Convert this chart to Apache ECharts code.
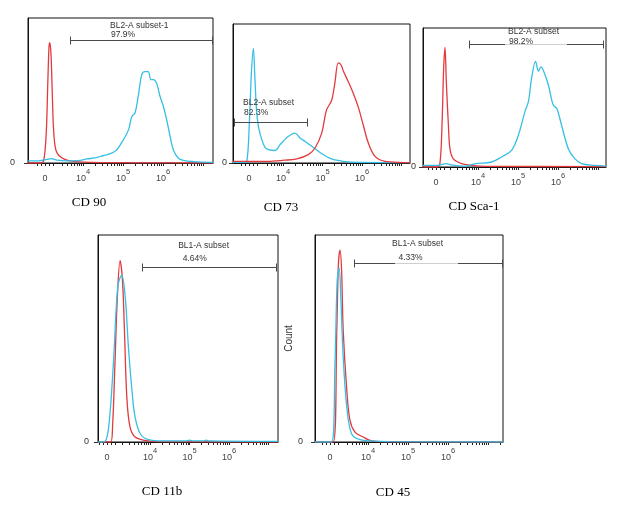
<!DOCTYPE html>
<html><head><meta charset="utf-8">
<script src="https://cdn.jsdelivr.net/npm/echarts@6/dist/echarts.min.js"></script>
<style>html,body{margin:0;padding:0;background:#fff}#c{width:627px;height:508px}</style>
</head><body><div id="c"></div>
<script>
// ---------- data (x in log-decade display units, y = % of max count) ----------
const panelNames = ['CD 90', 'CD 73', 'CD Sca-1', 'CD 11b', 'CD 45'];
const decadeExponents = [4, 5, 6];

const redCD90 = [[2.625,0],[2.95,0],[3.02,2],[3.08,20],[3.12,55],[3.15,80],[3.17,83],[3.2,75],[3.23,50],[3.26,25],[3.3,12],[3.35,7],[3.45,4],[3.6,2],[3.8,1],[4.0,0.6],[4.5,0.3],[5.0,0.2],[5.5,0.1],[7.25,0]];
const cyanCD90 = [[2.625,1.5],[2.9,1.5],[3.1,2.5],[3.2,3],[3.35,2],[3.6,1.5],[3.93,1.8],[4.09,2.8],[4.3,3.5],[4.5,5],[4.68,6.4],[4.84,9],[5.01,16],[5.14,23],[5.22,32],[5.3,34.5],[5.38,46],[5.47,61],[5.55,63],[5.63,63],[5.7,57.5],[5.76,57.5],[5.84,55],[5.925,46],[6.01,39],[6.09,30],[6.18,18],[6.26,9],[6.38,3.4],[6.51,1.8],[6.76,1],[7.25,0.5]];

const redCD73 = [[2.734,1.2],[3.6,1.2],[4.03,2],[4.35,3],[4.64,6],[4.81,10.8],[4.98,21.5],[5.1,38],[5.23,45],[5.31,57],[5.4,72],[5.47,70.5],[5.53,66],[5.65,58.6],[5.78,50],[5.9,40.7],[6.03,27.5],[6.16,14.4],[6.33,4.8],[6.58,1.2],[6.92,0.5],[7.215,0.3]];
const cyanCD73 = [[2.734,0.5],[3.0,0.5],[3.08,1],[3.15,30],[3.2,65],[3.25,82.5],[3.29,60],[3.33,38],[3.38,26],[3.46,17],[3.55,11],[3.63,9.6],[3.8,9],[3.92,13],[4.0,15.5],[4.13,19],[4.3,21.5],[4.43,18],[4.56,15.5],[4.73,12],[4.98,6.7],[5.23,2.9],[5.53,1.2],[5.9,0.5],[7.215,0.3]];

const redSca1 = [[2.625,0],[2.98,0],[3.05,3],[3.1,30],[3.14,70],[3.175,86],[3.21,60],[3.26,30],[3.3,13],[3.38,6],[3.59,2.4],[3.84,1.2],[4.2,0.5],[7.2,0.3]];
const cyanSca1 = [[2.625,1.2],[3.0,1.2],[3.2,2.4],[3.35,1.5],[3.68,0.7],[3.93,2.4],[4.34,3.6],[4.59,7.2],[4.84,12],[5.01,23],[5.175,40],[5.26,47],[5.34,64],[5.44,76],[5.51,69],[5.575,72],[5.66,67.5],[5.76,59],[5.88,44.6],[5.97,42],[6.09,30],[6.26,13],[6.42,6],[6.59,2.4],[6.92,1.2],[7.2,0.7]];

const redCD11b = [[2.68,0],[3.0,0],[3.05,8],[3.11,38],[3.17,70],[3.24,87.6],[3.3,78],[3.35,54],[3.41,21.8],[3.49,7.3],[3.62,2.4],[3.87,0.8],[4.2,0.2],[7.24,0]];
const cyanCD11b = [[2.68,0],[2.82,0],[2.94,5.6],[3.07,38],[3.18,75],[3.28,80.6],[3.37,70],[3.45,46],[3.54,25],[3.62,12],[3.75,4],[3.96,1.1],[4.3,0.5],[4.9,0.5],[5.0,0.9],[5.1,0.5],[5.35,0.5],[5.42,0.9],[5.5,0.5],[7.24,0.3]];

const redCD45 = [[2.675,0],[3.13,0],[3.22,54],[3.26,86],[3.3,92.7],[3.34,83],[3.38,54],[3.47,25],[3.55,10.5],[3.675,4.8],[3.88,2.4],[4.05,0.8],[4.3,0.2],[7.375,0]];
const cyanCD45 = [[2.675,0],[3.09,0],[3.175,38],[3.23,78],[3.28,84],[3.32,70],[3.38,41],[3.47,17],[3.59,4],[3.8,1.1],[4.1,0.5],[4.5,0.2],[7.375,0]];

const gateStart = [3.675, 2.76, 3.775, 3.8, 3.65];
const gateEnd   = [7.225, 4.61, 7.125, 7.2, 7.35];
const gateLevel = [84.8, 29.5, 88.5, 84.5, 86.5];
const gateTitle = ['BL2-A subset-1', 'BL2-A subset', 'BL2-A subset', 'BL1-A subset', 'BL1-A subset'];
const gatePct   = ['97.9%', '82.3%', '98.2%', '4.64%', '4.33%'];
const gateTextAt = [4.675, 2.99, 4.75, 4.71, 4.6];
const gateLightFrom = [null, null, 4.675, null, 4.675];
const gateLightTo   = [null, null, 6.225, null, 6.25];

const axisMin = [2.625, 2.734, 2.625, 2.68, 2.675];
const axisMax = [7.25, 7.215, 7.2, 7.24, 7.375];
const zeroAt  = [3.05, 3.14, 2.95, 2.91, 3.05];

const redSeries  = [redCD90, redCD73, redSca1, redCD11b, redCD45];
const cyanSeries = [cyanCD90, cyanCD73, cyanSca1, cyanCD11b, cyanCD45];

// ---------- layout / style ----------
const grids = [
  {left: 28, top: 18, width: 185, height: 145},
  {left: 233, top: 24, width: 177, height: 139},
  {left: 423, top: 28, width: 183, height: 139},
  {left: 98, top: 235, width: 180, height: 207},
  {left: 315, top: 235, width: 188, height: 207}
];
const yLabelMargin = [13, 6, 7, 9, 12];
const gateTextDy = [[-15, -6], [-19.5, -10], [-12.5, -3.3], [-21.5, -9], [-19.5, -6]];
const gatePctDx = [1, 1, 1, 4.5, 6.5];
const captionPos = [[89, 203], [281, 208], [474, 207], [162, 492], [393, 493]];

const RED = '#e23a3f';
const CYAN = '#35bfe4';
const SANS = 'Liberation Sans, Arial, sans-serif';

function tickValues(min, max, zero) {
  const t = [zero - 0.2, zero - 0.1, zero, zero + 0.1, zero + 0.2];
  for (let d = 3; d <= 7; d++) {
    for (let k = 1; k <= 9; k++) {
      const v = d + Math.log10(k);
      if (v > zero + 0.35 && v < max - 0.01) t.push(v);
    }
  }
  return t.filter(v => v > min && v < max);
}

const chart = echarts.init(document.getElementById('c'), null, {renderer: 'canvas'});
const option = {
  animation: false,
  backgroundColor: '#fff',
  grid: grids.map(g => Object.assign({show: true, borderColor: '#111', borderWidth: 1, containLabel: false}, g)),
  xAxis: grids.map((g, i) => ({
    type: 'value', gridIndex: i, min: axisMin[i], max: axisMax[i],
    axisLine: {show: true, lineStyle: {color: '#111', width: 1}},
    splitLine: {show: false},
    axisTick: {show: true, length: 3, inside: false, lineStyle: {color: '#222', width: 1},
      customValues: tickValues(axisMin[i], axisMax[i], zeroAt[i])},
    axisLabel: {
      show: true, margin: 5,
      customValues: [zeroAt[i]].concat(decadeExponents),
      formatter: function (v) {
        const r = Math.round(v);
        if (Math.abs(v - r) < 1e-6 && decadeExponents.indexOf(r) >= 0) return '{b|10}{s|' + r + '}';
        return '{b|0}';
      },
      rich: {
        b: {fontFamily: SANS, fontSize: 9, color: '#444', lineHeight: 15, verticalAlign: 'bottom'},
        s: {fontFamily: SANS, fontSize: 7.5, color: '#444', verticalAlign: 'top'}
      }
    }
  })),
  yAxis: grids.map((g, i) => ({
    type: 'value', gridIndex: i, min: 0, max: 100,
    axisLine: {show: true, lineStyle: {color: '#111', width: 1}},
    splitLine: {show: false},
    axisTick: {show: true, length: 4, customValues: [0], lineStyle: {color: '#333'}},
    axisLabel: {show: true, customValues: [0], formatter: () => '0', margin: yLabelMargin[i],
      fontFamily: SANS, fontSize: 9, color: '#333'},
    name: i === 4 ? 'Count' : '',
    nameLocation: 'middle', nameRotate: 90, nameGap: 19,
    nameTextStyle: {fontFamily: SANS, fontSize: 10, color: '#333'}
  })),
  series: []
};

for (let i = 0; i < 5; i++) {
  const lines = [
    {data: redSeries[i], color: RED, z: i === 1 ? 3 : 2},
    {data: cyanSeries[i], color: CYAN, z: i === 1 ? 2 : 3}
  ];
  if (i >= 3) { lines[0].z = 2; lines[1].z = 3; }
  lines.forEach(l => {
    option.series.push({
      type: 'line', xAxisIndex: i, yAxisIndex: i, data: l.data,
      showSymbol: false, smooth: 0.35, z: l.z,
      lineStyle: {color: l.color, width: 1.3}
    });
  });
  option.series.push({
    type: 'custom', xAxisIndex: i, yAxisIndex: i, z: 5,
    data: [[gateStart[i], gateEnd[i], gateLevel[i], gateTextAt[i]]],
    encode: {x: [0, 1, 3], y: 2},
    renderItem: function (params, api) {
      const p1 = api.coord([api.value(0), api.value(2)]);
      const p2 = api.coord([api.value(1), api.value(2)]);
      const pt = api.coord([api.value(3), api.value(2)]);
      const y = Math.round(p1[1]) + 0.5;
      const children = [];
      const dark = '#4a4a4a';
      if (gateLightFrom[i] != null) {
        const a = api.coord([gateLightFrom[i], gateLevel[i]])[0];
        const b = api.coord([gateLightTo[i], gateLevel[i]])[0];
        children.push({type: 'line', shape: {x1: p1[0], y1: y, x2: a, y2: y}, style: {stroke: dark, lineWidth: 1}});
        children.push({type: 'line', shape: {x1: a, y1: y, x2: b, y2: y}, style: {stroke: '#cfcfcf', lineWidth: 1}});
        children.push({type: 'line', shape: {x1: b, y1: y, x2: p2[0], y2: y}, style: {stroke: dark, lineWidth: 1}});
      } else {
        children.push({type: 'line', shape: {x1: p1[0], y1: y, x2: p2[0], y2: y}, style: {stroke: dark, lineWidth: 1}});
      }
      [p1[0], p2[0]].forEach(x => children.push({type: 'line',
        shape: {x1: Math.round(x) + 0.5, y1: y - 4, x2: Math.round(x) + 0.5, y2: y + 4}, style: {stroke: dark, lineWidth: 1}}));
      children.push({type: 'text', x: pt[0], y: y + gateTextDy[i][0],
        style: {text: gateTitle[i], fill: '#333', font: '8.5px ' + SANS, textAlign: 'left', textVerticalAlign: 'middle'}});
      children.push({type: 'text', x: pt[0] + gatePctDx[i], y: y + gateTextDy[i][1],
        style: {text: gatePct[i], fill: '#333', font: '8.5px ' + SANS, textAlign: 'left', textVerticalAlign: 'middle'}});
      return {type: 'group', children: children};
    }
  });
}

option.graphic = panelNames.map((n, i) => ({
  type: 'text', left: captionPos[i][0], top: captionPos[i][1], z: 10,
  style: {text: n, font: '13px "Liberation Serif", "Times New Roman", serif', fill: '#000', textAlign: 'center', textVerticalAlign: 'middle'}
}));
// position graphic by center
option.graphic.forEach((g, i) => { delete g.left; delete g.top; g.x = captionPos[i][0]; g.y = captionPos[i][1]; });

chart.setOption(option);
</script></body></html>
